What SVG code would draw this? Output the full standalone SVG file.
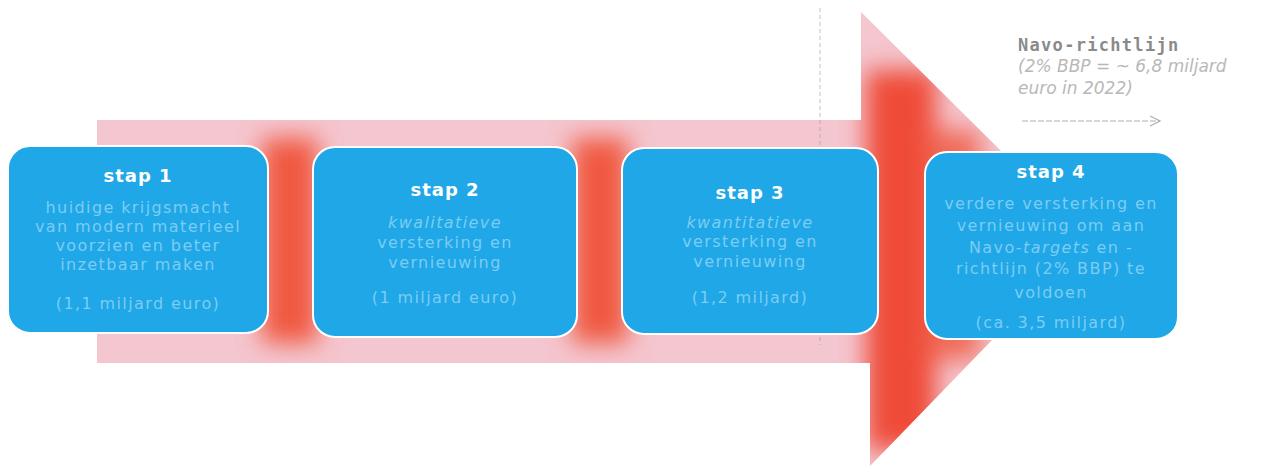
<svg xmlns="http://www.w3.org/2000/svg" width="1265" height="468" viewBox="0 0 1265 468">
  <style>
    .box { fill: #1fa7e7; stroke: #ffffff; stroke-width: 2; }
    .title { font-family: "DejaVu Sans", sans-serif; font-weight: bold; font-size: 18px; letter-spacing: 1px; fill: #ffffff; text-anchor: middle; }
    .body { font-family: "DejaVu Sans", sans-serif; font-size: 16px; letter-spacing: 1.4px; fill: #7ccdf2; text-anchor: middle; }
    .note1 { font-family: "DejaVu Sans Mono", monospace; font-weight: bold; font-size: 17px; letter-spacing: 1.3px; fill: #8a8a8a; }
    .note2 { font-family: "DejaVu Sans", sans-serif; font-style: italic; font-size: 17px; fill: #b8b8b8; }
  </style>
  <defs>
    <clipPath id="arrowClip">
      <polygon points="97,120 861,120 861,12 1090,239 870,466 870,363 97,363"/>
    </clipPath>
    <filter id="blur" x="-50%" y="-50%" width="200%" height="200%">
      <feGaussianBlur stdDeviation="12"/>
    </filter>
    <marker id="chev" viewBox="0 0 12 12" refX="11" refY="6" markerWidth="12" markerHeight="12" orient="auto" markerUnits="userSpaceOnUse">
      <path d="M1,1 L11,6 L1,11" fill="none" stroke="#b0b0b0" stroke-width="1.2"/>
    </marker>
  </defs>

  <rect width="1265" height="468" fill="#ffffff"/>

  <g id="arrow" clip-path="url(#arrowClip)">
    <rect x="90" y="0" width="1010" height="468" fill="#f4c6cf"/>
    <g filter="url(#blur)">
      <rect x="262" y="138" width="56" height="205" fill="#f0583f"/>
      <rect x="572" y="138" width="56" height="205" fill="#f0583f"/>
      <rect x="866" y="70" width="70" height="380" fill="#ef4c39"/>
      <rect x="930" y="130" width="50" height="230" fill="#f06a58"/>
    </g>
  </g>

  <line x1="820" y1="8" x2="820" y2="345" stroke="#9a9a9a" stroke-width="1" stroke-dasharray="4,3" opacity="0.6"/>

  <g id="connectors">
    <line x1="1022" y1="121" x2="1160" y2="121" stroke="#b0b0b0" stroke-width="1.2" stroke-dasharray="6,2" marker-end="url(#chev)"/>
  </g>

  <g id="step1">
    <rect class="box" x="8" y="146" width="260" height="187" rx="22"/>
    <text class="title" x="138" y="182">stap 1</text>
    <text class="body" x="138" y="213">huidige krijgsmacht</text>
    <text class="body" x="138" y="232">van modern materieel</text>
    <text class="body" x="138" y="251">voorzien en beter</text>
    <text class="body" x="138" y="270">inzetbaar maken</text>
    <text class="body" x="138" y="309">(1,1 miljard euro)</text>
  </g>

  <g id="step2">
    <rect class="box" x="313" y="147" width="264" height="190" rx="22"/>
    <text class="title" x="445" y="196">stap 2</text>
    <text class="body" x="445" y="228" font-style="italic">kwalitatieve</text>
    <text class="body" x="445" y="248">versterking en</text>
    <text class="body" x="445" y="268">vernieuwing</text>
    <text class="body" x="445" y="303">(1 miljard euro)</text>
  </g>

  <g id="step3">
    <rect class="box" x="622" y="148" width="256" height="186" rx="22"/>
    <text class="title" x="750" y="199">stap 3</text>
    <text class="body" x="750" y="228" font-style="italic">kwantitatieve</text>
    <text class="body" x="750" y="247">versterking en</text>
    <text class="body" x="750" y="267">vernieuwing</text>
    <text class="body" x="750" y="303">(1,2 miljard)</text>
  </g>

  <g id="step4">
    <rect class="box" x="925" y="152" width="253" height="187" rx="22"/>
    <text class="title" x="1051" y="178">stap 4</text>
    <text class="body" x="1051" y="209">verdere versterking en</text>
    <text class="body" x="1051" y="231">vernieuwing om aan</text>
    <text class="body" x="1051" y="253">Navo-<tspan font-style="italic">targets</tspan> en -</text>
    <text class="body" x="1051" y="274">richtlijn (2% BBP) te</text>
    <text class="body" x="1051" y="298">voldoen</text>
    <text class="body" x="1051" y="328">(ca. 3,5 miljard)</text>
  </g>

  <g id="navo-note">
    <text class="note1" x="1018" y="51">Navo-richtlijn</text>
    <text class="note2" x="1018" y="72">(2% BBP = ~ 6,8 miljard</text>
    <text class="note2" x="1018" y="94">euro in 2022)</text>
  </g>
</svg>
